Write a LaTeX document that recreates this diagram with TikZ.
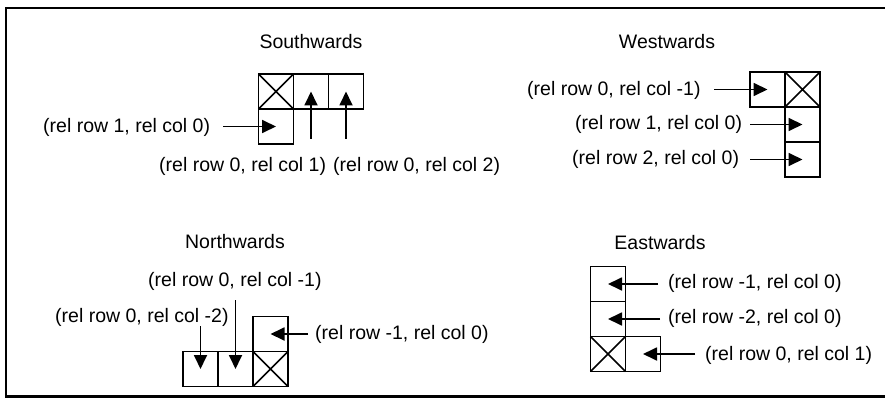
\documentclass[tikz,border=0pt]{standalone}
\usepackage{fontspec}
\setmainfont{Liberation Sans}
\usetikzlibrary{arrows.meta}
\begin{document}
\begin{tikzpicture}[x=1pt,y=-1pt,
  cell/.style={draw,line width=1.8pt,minimum size=35pt,inner sep=0pt,outer sep=0pt},
  lbl/.style={inner sep=0pt,anchor=west,font=\fontsize{19.5}{22}\selectfont},
  ttl/.style={inner sep=0pt,font=\fontsize{19.5}{22}\selectfont},
  arr/.style={line width=1.8pt,-{Triangle[length=14pt,width=13pt]}},
  xmark/.style={line width=1.5pt}]
\useasboundingbox (0,0) rectangle (885,398);
\draw[line width=2.2pt] (885,8) -- (6,8) -- (6,396.5) -- (885,396.5);

% Southwards
\node[ttl] (tS) at (311,42) {Southwards};
\node[cell] (s1) at (276,91.5) {};
\node[cell] (s2) at (311,91.5) {};
\node[cell] (s3) at (346,91.5) {};
\node[cell] (s4) at (276,126.5) {};
\draw[xmark] (s1.north west) -- (s1.south east) (s1.north east) -- (s1.south west);
\node[lbl] (ls1) at (43,127) {(rel row 1, rel col 0)};
\node[lbl] (ls2) at (159,166) {(rel row 0, rel col 1)};
\node[lbl] (ls3) at (333,166) {(rel row 0, rel col 2)};
\coordinate (as1) at (223,126.5);
\coordinate (as2) at (311,139);
\coordinate (as3) at (346,139);
\draw[arr] (as1) -- (s4.center);
\draw[arr] (as2) -- (s2.center);
\draw[arr] (as3) -- (s3.center);

% Westwards
\node[ttl] (tW) at (667,42) {Westwards};
\node[cell] (w1) at (767.5,89.5) {};
\node[cell] (w2) at (802.5,89.5) {};
\node[cell] (w3) at (802.5,124.5) {};
\node[cell] (w4) at (802.5,159.5) {};
\draw[xmark] (w2.north west) -- (w2.south east) (w2.north east) -- (w2.south west);
\node[lbl] (lw1) at (527,90) {(rel row 0, rel col -1)};
\node[lbl] (lw2) at (575,124) {(rel row 1, rel col 0)};
\node[lbl] (lw3) at (572,159) {(rel row 2, rel col 0)};
\coordinate (aw1) at (714,89.5);
\coordinate (aw2) at (750,124.5);
\coordinate (aw3) at (750,159.5);
\draw[arr] (aw1) -- (w1.center);
\draw[arr] (aw2) -- (w3.center);
\draw[arr] (aw3) -- (w4.center);

% Northwards
\node[ttl] (tN) at (235,242) {Northwards};
\node[cell] (n1) at (200.5,369) {};
\node[cell] (n2) at (235.5,369) {};
\node[cell] (n3) at (270.5,369) {};
\node[cell] (n4) at (270.5,334) {};
\draw[xmark] (n3.north west) -- (n3.south east) (n3.north east) -- (n3.south west);
\node[lbl] (ln1) at (148,281) {(rel row 0, rel col -1)};
\node[lbl] (ln2) at (55,317) {(rel row 0, rel col -2)};
\node[lbl] (ln3) at (315,334) {(rel row -1, rel col 0)};
\coordinate (an1) at (200.5,326);
\coordinate (an2) at (235.5,300);
\coordinate (an3) at (308,334);
\draw[arr] (an1) -- (n1.center);
\draw[arr] (an2) -- (n2.center);
\draw[arr] (an3) -- (n4.center);

% Eastwards
\node[ttl] (tE) at (660,243) {Eastwards};
\node[cell] (e1) at (608,284) {};
\node[cell] (e2) at (608,319) {};
\node[cell] (e3) at (608,354) {};
\node[cell] (e4) at (643,354) {};
\draw[xmark] (e3.north west) -- (e3.south east) (e3.north east) -- (e3.south west);
\node[lbl] (le1) at (668,283) {(rel row -1, rel col 0)};
\node[lbl] (le2) at (668,318) {(rel row -2, rel col 0)};
\node[lbl] (le3) at (705,355) {(rel row 0, rel col 1)};
\coordinate (ae1) at (658,284);
\coordinate (ae2) at (660,319);
\coordinate (ae3) at (695,354);
\draw[arr] (ae1) -- (e1.center);
\draw[arr] (ae2) -- (e2.center);
\draw[arr] (ae3) -- (e4.center);
\end{tikzpicture}
\end{document}
